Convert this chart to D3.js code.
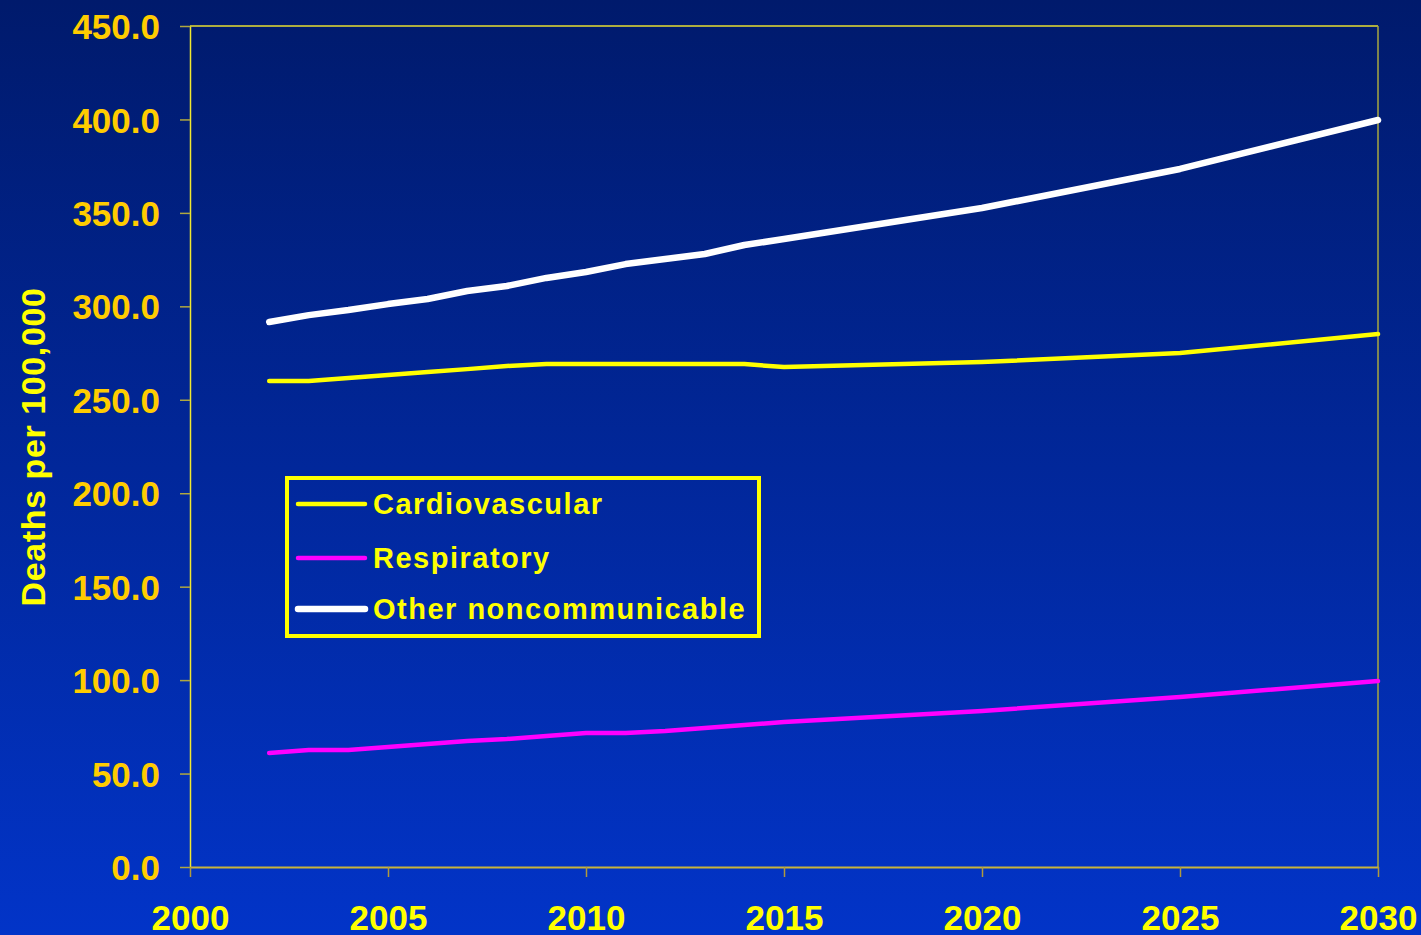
<!DOCTYPE html>
<html>
<head>
<meta charset="utf-8">
<script src="https://cdn.jsdelivr.net/npm/d3@7"></script>
<style>
  html, body { margin: 0; padding: 0; }
  body { width: 1421px; height: 935px; overflow: hidden; }
  svg { display: block; font-family: "Liberation Sans", Arial, sans-serif; }
</style>
</head>
<body>
<svg width="1421" height="935"></svg>
<script>
const years = [2002, 2003, 2004, 2005, 2006, 2007, 2008, 2009, 2010, 2011, 2012, 2013, 2014, 2015, 2020, 2025, 2030]
const cardiovascular = [260, 260, 261.6, 263.2, 264.9, 266.4, 268.1, 269.1, 269.1, 269.1, 269.1, 269.1, 269.1, 267.5, 270.2, 275, 285.2]
const respiratory = [61, 62.6, 62.6, 64.2, 65.8, 67.4, 68.5, 70.1, 71.7, 71.7, 72.8, 74.4, 76, 77.6, 83.5, 91, 99.5]
const otherNcd = [291.6, 295.3, 298, 301.2, 303.9, 308.2, 310.9, 315.2, 318.4, 322.6, 325.3, 328, 332.8, 336, 352.6, 373.5, 399.7]
const seriesNames = ['Cardiovascular', 'Respiratory', 'Other noncommunicable']
const xTicks = [2000, 2005, 2010, 2015, 2020, 2025, 2030]
const yTicks = [0, 50, 100, 150, 200, 250, 300, 350, 400, 450]

const svg = d3.select('svg')
const width = +svg.attr('width')
const height = +svg.attr('height')

const margin = {top: 26, right: 43, bottom: 68, left: 190}
const innerWidth = width - margin.left - margin.right
const innerHeight = height - margin.top - margin.bottom

// background gradient
const defs = svg.append('defs')
const grad = defs.append('linearGradient')
    .attr('id', 'bg').attr('x1', 0).attr('y1', 0).attr('x2', 0).attr('y2', 1)
grad.append('stop').attr('offset', '0%').attr('stop-color', '#001a6c')
grad.append('stop').attr('offset', '100%').attr('stop-color', '#0234c8')

svg.append('rect')
    .attr('width', width).attr('height', height)
    .attr('fill', 'url(#bg)')

//SCALES
const xScale = d3.scaleLinear().domain([2000, 2030]).range([0, innerWidth])
const yScale = d3.scaleLinear().domain([0, 450]).range([innerHeight, 0])

const g = svg.append('g')
    .attr('transform', `translate(${margin.left},${margin.top})`)

// frame top / right
g.append('line')
    .attr('x1', 0).attr('x2', innerWidth).attr('y1', 0).attr('y2', 0)
    .attr('stroke', '#e8e030').attr('stroke-width', 1.5)
g.append('line')
    .attr('x1', innerWidth).attr('x2', innerWidth).attr('y1', 0).attr('y2', innerHeight)
    .attr('stroke', '#a8a840').attr('stroke-width', 1.5)

//AXIS
const yAxis = d3.axisLeft(yScale)
    .tickValues(yTicks)
    .tickFormat(d3.format('.1f'))
    .tickSize(10)
    .tickSizeOuter(0)
    .tickPadding(20)

const yG = g.append('g').call(yAxis)
yG.select('.domain').attr('stroke', '#f0e830').attr('stroke-width', 1.5)
yG.selectAll('.tick line').attr('stroke', '#b0a840').attr('stroke-width', 1.5)
yG.selectAll('.tick text')
    .attr('fill', '#ffcc00')
    .attr('font-size', 35)
    .attr('font-weight', 'bold')
    .attr('dy', '0.36em')

const xAxis = d3.axisBottom(xScale)
    .tickValues(xTicks)
    .tickFormat(d3.format('d'))
    .tickSize(10)
    .tickSizeOuter(0)
    .tickPadding(28)

const xG = g.append('g')
    .attr('transform', `translate(0,${innerHeight})`)
    .call(xAxis)
xG.select('.domain').attr('stroke', '#c8b43c').attr('stroke-width', 2)
xG.selectAll('.tick line').attr('stroke', '#b09a3c').attr('stroke-width', 1.5)
xG.selectAll('.tick text')
    .attr('fill', '#ffff00')
    .attr('font-size', 35)
    .attr('font-weight', 'bold')

// y-axis label
svg.append('text')
    .text('Deaths per 100,000')
    .attr('text-anchor', 'middle')
    .attr('transform', 'translate(45,447) rotate(-90)')
    .attr('fill', '#ffff00')
    .attr('font-size', 34)
    .attr('font-weight', 'bold')
    .attr('letter-spacing', 0.6)

//LINES
const series = [
    {name: seriesNames[0], values: cardiovascular, color: '#ffff00', width: 4.5},
    {name: seriesNames[1], values: respiratory, color: '#ff00ff', width: 4.5},
    {name: seriesNames[2], values: otherNcd, color: '#ffffff', width: 6.5}
]

const line = d3.line()
    .x((d, i) => xScale(years[i]))
    .y(d => yScale(d))

g.selectAll('.series')
    .data(series)
    .enter().append('path')
        .attr('class', 'series')
        .attr('d', d => line(d.values))
        .attr('fill', 'none')
        .attr('stroke', d => d.color)
        .attr('stroke-width', d => d.width)
        .attr('stroke-linecap', 'round')
        .attr('stroke-linejoin', 'round')

//Legend
const legend = svg.append('g').attr('transform', 'translate(287,478)')
legend.append('rect')
    .attr('width', 472).attr('height', 158)
    .attr('fill', 'none')
    .attr('stroke', '#ffff00')
    .attr('stroke-width', 4)

const rowY = [26, 80, 131]
const item = legend.selectAll('.item')
    .data(series)
    .enter().append('g')
        .attr('class', 'item')
        .attr('transform', (d, i) => `translate(0,${rowY[i]})`)
item.append('line')
    .attr('x1', 11).attr('x2', 78)
    .attr('stroke', d => d.color)
    .attr('stroke-width', d => d.width)
    .attr('stroke-linecap', 'round')
item.append('text')
    .text(d => d.name)
    .attr('x', 86)
    .attr('dy', '0.36em')
    .attr('fill', '#ffff00')
    .attr('font-size', 29)
    .attr('font-weight', 'bold')
    .attr('letter-spacing', 1.5)
</script>
</body>
</html>
